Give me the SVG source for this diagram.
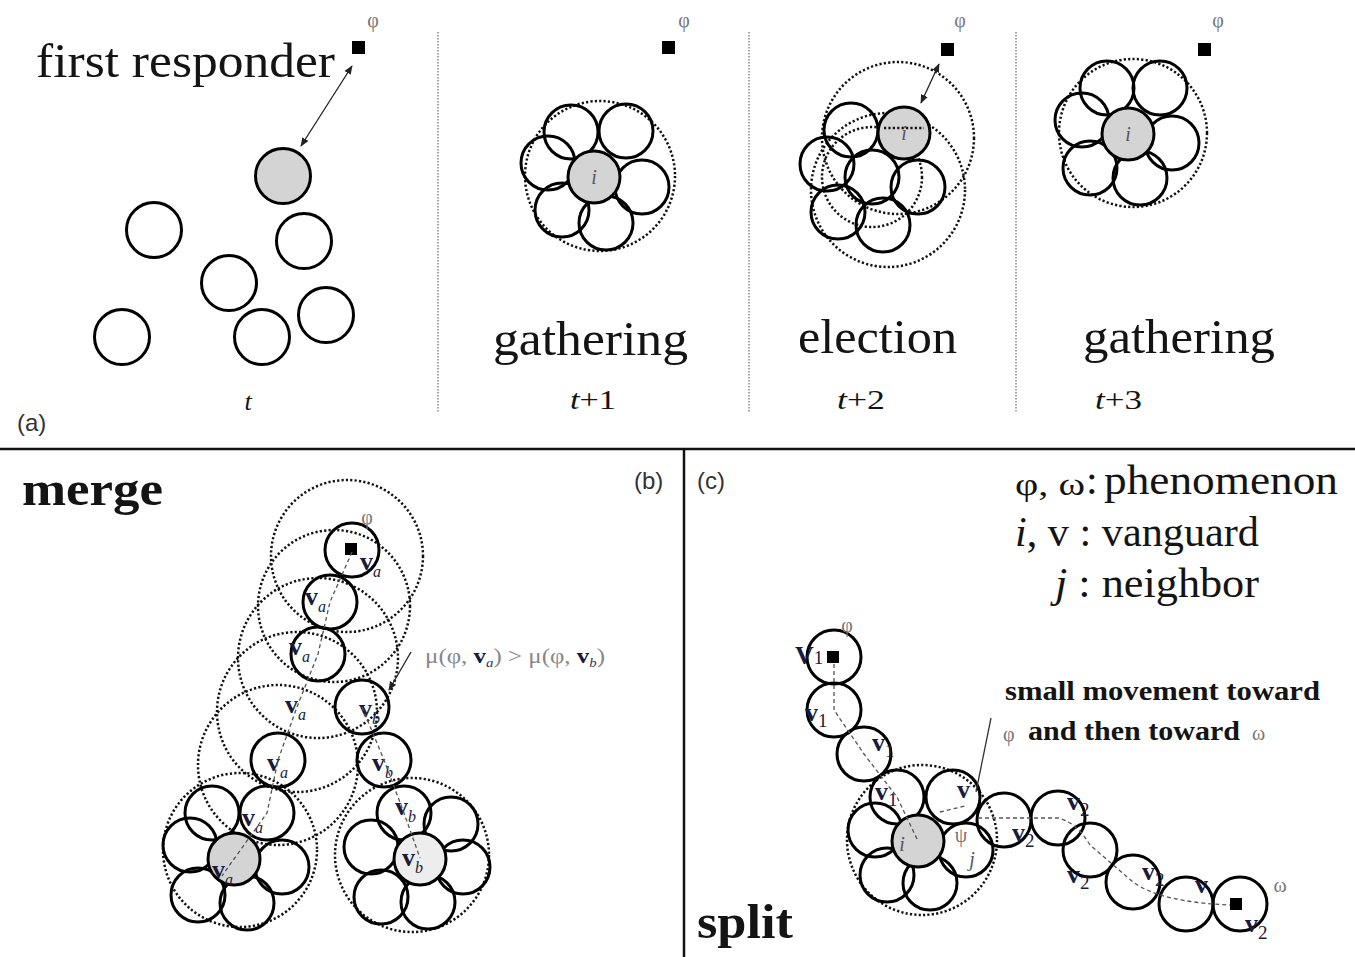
<svg xmlns="http://www.w3.org/2000/svg" width="1355" height="957" viewBox="0 0 1355 957">
<style>
.n{fill:none;stroke:#000;stroke-width:3}
.g{fill:#d4d4d4;stroke:#000;stroke-width:3}
.lg{fill:#ededed;stroke:#000;stroke-width:3}
.d{fill:none;stroke:#111;stroke-width:2.5;stroke-dasharray:2.2 2.2}
.ds{fill:none;stroke:#555;stroke-width:1.3;stroke-dasharray:4 3}
.sep{stroke:#777;stroke-width:1.3;stroke-dasharray:1.5 1.5}
.sq{fill:#000}
.t{font-family:"Liberation Serif","DejaVu Serif",serif;fill:#141414}
.big{font-size:48px}
.b{font-weight:bold}
.it{font-style:italic}
.sm{font-family:"Liberation Serif","DejaVu Serif",serif;font-size:20px;fill:#777}
.lab{font-family:"Liberation Sans","DejaVu Sans",sans-serif;font-size:24px;fill:#333}
.v{font-family:"Liberation Serif","DejaVu Serif",serif;font-weight:bold;font-size:26px;fill:#1a1a3a}
.sub{font-style:italic;font-size:16px;font-weight:normal}
.num{font-size:19px;font-weight:normal}
.ii{font-family:"Liberation Serif","DejaVu Serif",serif;font-style:italic;font-size:20px;fill:#556}
.ar{stroke:#222;stroke-width:1.3;fill:none}
</style>
<defs>
<marker id="ah" viewBox="0 0 10 10" refX="9" refY="5" markerWidth="7" markerHeight="7" orient="auto-start-reverse"><path d="M0,1 L10,5 L0,9 z" fill="#222"/></marker>
</defs>
<rect width="1355" height="957" fill="#fff"/>

<!-- frame lines -->
<g id="frame">
<line x1="438" y1="32" x2="438" y2="412" class="sep"/>
<line x1="749" y1="32" x2="749" y2="412" class="sep"/>
<line x1="1016" y1="32" x2="1016" y2="412" class="sep"/>
<line x1="0" y1="449" x2="1355" y2="449" stroke="#111" stroke-width="2.5"/>
<line x1="684" y1="449" x2="684" y2="957" stroke="#111" stroke-width="2.5"/>
</g>

<!-- panel (a) t -->
<g id="a-t">
<rect class="sq" x="352" y="41" width="13" height="13"/>
<text class="sm" x="373" y="27" text-anchor="middle">φ</text>
<circle class="g" cx="283" cy="176" r="27.5"/>
<circle class="n" cx="154" cy="230" r="27.5"/>
<circle class="n" cx="304" cy="241" r="27.5"/>
<circle class="n" cx="229" cy="283" r="27.5"/>
<circle class="n" cx="122" cy="337" r="27.5"/>
<circle class="n" cx="262" cy="337" r="27.5"/>
<circle class="n" cx="326" cy="315" r="27.5"/>
<text class="t big" x="36" y="77" textLength="299" lengthAdjust="spacingAndGlyphs">first responder</text>
<text class="t it" x="248" y="410" font-size="26" text-anchor="middle">t</text>
<text class="lab" x="17" y="431">(a)</text>
</g>

<!-- panel t+1 -->
<g id="a-t1">
<rect class="sq" x="662" y="41" width="13" height="13"/>
<text class="sm" x="684" y="27" text-anchor="middle">φ</text>
<circle class="d" cx="600" cy="176" r="75"/>
<circle class="n" cx="571" cy="132" r="27"/>
<circle class="n" cx="626" cy="131" r="27"/>
<circle class="n" cx="642" cy="187" r="27"/>
<circle class="n" cx="606" cy="223" r="27"/>
<circle class="n" cx="562" cy="210" r="27"/>
<circle class="n" cx="548" cy="163" r="27"/>
<circle class="g" cx="594" cy="177" r="26"/>
<text class="ii" x="594" y="184" text-anchor="middle">i</text>
<text class="t big" x="493" y="355" textLength="195" lengthAdjust="spacingAndGlyphs">gathering</text>
<text class="t" x="570" y="409" font-size="28" textLength="46" lengthAdjust="spacingAndGlyphs"><tspan font-style="italic">t</tspan>+1</text>
</g>

<!-- panel t+2 -->
<g id="a-t2">
<rect class="sq" x="941" y="43" width="13" height="13"/>
<text class="sm" x="960" y="27" text-anchor="middle">φ</text>
<circle class="d" cx="898" cy="138" r="76"/>
<circle class="d" cx="888" cy="190" r="77"/>
<circle class="d" cx="872" cy="177" r="50"/>
<circle class="n" cx="851" cy="130" r="27"/>
<circle class="n" cx="827" cy="164" r="27"/>
<circle class="n" cx="872" cy="177" r="27"/>
<circle class="n" cx="918" cy="187" r="27"/>
<circle class="n" cx="838" cy="212" r="27"/>
<circle class="n" cx="883" cy="225" r="27"/>
<circle class="g" cx="904" cy="133" r="26"/>
<line x1="884" y1="128" x2="924" y2="128" class="d" stroke-width="1.8"/>
<text class="ii" x="904" y="140" text-anchor="middle">i</text>
<text class="t big" x="798" y="353" textLength="159" lengthAdjust="spacingAndGlyphs">election</text>
<text class="t" x="837" y="409" font-size="28" textLength="48" lengthAdjust="spacingAndGlyphs"><tspan font-style="italic">t</tspan>+2</text>
</g>

<!-- panel t+3 -->
<g id="a-t3">
<rect class="sq" x="1198" y="43" width="13" height="13"/>
<text class="sm" x="1218" y="27" text-anchor="middle">φ</text>
<circle class="d" cx="1133" cy="133" r="74"/>
<circle class="n" cx="1107" cy="88" r="27"/>
<circle class="n" cx="1160" cy="88" r="27"/>
<circle class="n" cx="1172" cy="143" r="27"/>
<circle class="n" cx="1140" cy="178" r="27"/>
<circle class="n" cx="1090" cy="168" r="27"/>
<circle class="n" cx="1082" cy="120" r="27"/>
<circle class="g" cx="1128" cy="134" r="26"/>
<text class="ii" x="1128" y="141" text-anchor="middle">i</text>
<text class="t big" x="1083" y="353" textLength="192" lengthAdjust="spacingAndGlyphs">gathering</text>
<text class="t" x="1095" y="409" font-size="28" textLength="47" lengthAdjust="spacingAndGlyphs"><tspan font-style="italic">t</tspan>+3</text>
</g>

<!-- panel (b) merge -->
<g id="b-merge">
<text class="t big b" x="22" y="505" textLength="141" lengthAdjust="spacingAndGlyphs">merge</text>
<text class="lab" x="634" y="489">(b)</text>
<circle class="d" cx="347" cy="556" r="76"/>
<circle class="d" cx="334" cy="606" r="76"/>
<circle class="d" cx="318" cy="658" r="80"/>
<circle class="d" cx="297" cy="712" r="80"/>
<circle class="d" cx="278" cy="765" r="80"/>
<circle class="d" cx="240" cy="850" r="77"/>
<circle class="d" cx="412" cy="855" r="77"/>
<circle class="n" cx="352" cy="550" r="27"/>
<rect class="sq" x="345" y="543" width="12" height="12"/>
<text class="sm" x="367" y="524" text-anchor="middle" font-size="16">φ</text>
<circle class="n" cx="330" cy="602" r="27"/>
<circle class="n" cx="318" cy="654" r="27"/>
<circle class="n" cx="362" cy="707" r="27"/>
<circle class="n" cx="278" cy="760" r="27"/>
<circle class="n" cx="384" cy="760" r="27"/>
<circle class="n" cx="212" cy="813" r="27"/>
<circle class="n" cx="267" cy="813" r="27"/>
<circle class="n" cx="282" cy="867" r="27"/>
<circle class="n" cx="247" cy="903" r="27"/>
<circle class="n" cx="198" cy="895" r="27"/>
<circle class="n" cx="190" cy="845" r="27"/>
<circle class="g" cx="234" cy="859" r="26"/>
<circle class="n" cx="404" cy="813" r="27"/>
<circle class="n" cx="451" cy="824" r="27"/>
<circle class="n" cx="463" cy="867" r="27"/>
<circle class="n" cx="428" cy="902" r="27"/>
<circle class="n" cx="381" cy="897" r="27"/>
<circle class="n" cx="371" cy="847" r="27"/>
<circle class="lg" cx="420" cy="859" r="26"/>
<text class="v" x="360" y="570">v<tspan class="sub" dy="7">a</tspan></text>
<text class="v" x="305" y="605">v<tspan class="sub" dy="7">a</tspan></text>
<text class="v" x="289" y="655">v<tspan class="sub" dy="7">a</tspan></text>
<text class="v" x="285" y="713">v<tspan class="sub" dy="7">a</tspan></text>
<text class="v" x="359" y="717">v<tspan class="sub" dy="7">b</tspan></text>
<text class="v" x="267" y="771">v<tspan class="sub" dy="7">a</tspan></text>
<text class="v" x="372" y="771">v<tspan class="sub" dy="7">b</tspan></text>
<text class="v" x="242" y="826">v<tspan class="sub" dy="7">a</tspan></text>
<text class="v" x="395" y="815">v<tspan class="sub" dy="7">b</tspan></text>
<text class="v" x="212" y="878">v<tspan class="sub" dy="7">a</tspan></text>
<text class="v" x="402" y="866">v<tspan class="sub" dy="7">b</tspan></text>
<text font-family="Liberation Serif, DejaVu Serif, serif" font-size="22" fill="#888" x="425" y="663" textLength="180" lengthAdjust="spacingAndGlyphs">μ(φ, <tspan fill="#1a1a3a" font-weight="bold">v</tspan><tspan font-size="13" font-style="italic" fill="#335" dy="4">a</tspan><tspan dy="-4">) &gt; μ(φ, </tspan><tspan fill="#1a1a3a" font-weight="bold">v</tspan><tspan font-size="13" font-style="italic" fill="#335" dy="4">b</tspan><tspan dy="-4">)</tspan></text>
</g>

<!-- panel (c) split -->
<g id="c-split">
<text class="lab" x="697" y="489">(c)</text>
<text class="t big b" x="697" y="938" textLength="96" lengthAdjust="spacingAndGlyphs">split</text>
<circle class="d" cx="922" cy="840" r="75"/>
<circle class="n" cx="834" cy="657" r="27"/>
<rect class="sq" x="827" y="651" width="12" height="12"/>
<text class="sm" x="847" y="632" text-anchor="middle" font-size="16">φ</text>
<circle class="n" cx="834" cy="710" r="27"/>
<circle class="n" cx="864" cy="754" r="27"/>
<circle class="n" cx="897" cy="797" r="27"/>
<circle class="n" cx="953" cy="797" r="27"/>
<circle class="n" cx="875" cy="830" r="27"/>
<circle class="n" cx="966" cy="850" r="27"/>
<circle class="n" cx="887" cy="875" r="27"/>
<circle class="n" cx="930" cy="883" r="27"/>
<circle class="g" cx="918" cy="841" r="26"/>
<circle class="n" cx="1004" cy="820" r="27"/>
<circle class="n" cx="1058" cy="818" r="27"/>
<circle class="n" cx="1090" cy="850" r="27"/>
<circle class="n" cx="1133" cy="882" r="27"/>
<circle class="n" cx="1186" cy="904" r="27"/>
<circle class="n" cx="1240" cy="904" r="27"/>
<rect class="sq" x="1230" y="898" width="12" height="12"/>
<text class="sm" x="1280" y="892" text-anchor="middle" font-size="16">ω</text>
<text class="v" x="795" y="664" font-size="27">V<tspan class="num">1</tspan></text>
<text class="v" x="805" y="721">v<tspan class="num" dy="6">1</tspan></text>
<text class="v" x="872" y="751">v<tspan class="num" dy="6">1</tspan></text>
<text class="v" x="875" y="800">v<tspan class="num" dy="6">1</tspan></text>
<text class="v" x="957" y="798">v</text>
<text class="ii" x="902" y="851" font-size="24" text-anchor="middle">i</text>
<text class="ii" x="972" y="866" font-size="26" text-anchor="middle">j</text>
<text class="sm" x="961" y="842" text-anchor="middle" font-size="15">ψ</text>
<text class="v" x="1012" y="841">v<tspan class="num" dy="6">2</tspan></text>
<text class="v" x="1067" y="810">v<tspan class="num" dy="6">2</tspan></text>
<text class="v" x="1067" y="883">v<tspan class="num" dy="6">2</tspan></text>
<text class="v" x="1142" y="880">v<tspan class="num" dy="6">2</tspan></text>
<text class="v" x="1195" y="893">v</text>
<text class="v" x="1245" y="932">v<tspan class="num" dy="7">2</tspan></text>
<text class="t b" x="1005" y="700" font-size="27" textLength="315" lengthAdjust="spacingAndGlyphs">small movement toward</text>
<text class="sm" x="1003" y="741" font-size="18">φ</text>
<text class="t b" x="1028" y="740" font-size="27" textLength="212" lengthAdjust="spacingAndGlyphs">and then toward</text>
<text class="sm" x="1252" y="740" font-size="18">ω</text>
</g>

<!-- legend -->
<g id="legend">
<text class="t" x="1015" y="495" font-size="32" fill="#888" textLength="70" lengthAdjust="spacingAndGlyphs">φ, ω</text>
<text class="t" x="1086" y="494" font-size="42">:</text>
<text class="t" x="1104" y="494" font-size="42" textLength="234" lengthAdjust="spacingAndGlyphs">phenomenon</text>
<text class="t" x="1015" y="546" font-size="42" textLength="244" lengthAdjust="spacingAndGlyphs"><tspan font-style="italic">i</tspan>, v : vanguard</text>
<text class="t" x="1055" y="597" font-size="42" textLength="204" lengthAdjust="spacingAndGlyphs"><tspan font-style="italic">j</tspan> : neighbor</text>
</g>

<!-- connectors -->
<g id="connectors">
<line class="ar" x1="352" y1="66" x2="301" y2="146" marker-start="url(#ah)" marker-end="url(#ah)"/>
<line class="ar" x1="939" y1="64" x2="921" y2="103" marker-start="url(#ah)" marker-end="url(#ah)"/>
<line class="ar" x1="411" y1="652" x2="389" y2="690" marker-end="url(#ah)"/>
<path class="ds" d="M352,552 L330,602 L318,654 L297,707 L278,760 L267,813 L234,859 L222,876"/>
<path class="ds" d="M362,707 L384,760 L404,813 L420,858"/>
<path class="ds" d="M834,664 L834,710 L864,754 L897,797 L918,841"/>
<path class="ds" d="M940,812 L965,806"/>
<path class="ds" d="M978,818 L1058,818 Q1076,822 1090,845 L1133,882 Q1160,902 1230,905"/>
<line x1="991" y1="718" x2="976" y2="792" stroke="#333" stroke-width="1.3"/>
</g>
</svg>
